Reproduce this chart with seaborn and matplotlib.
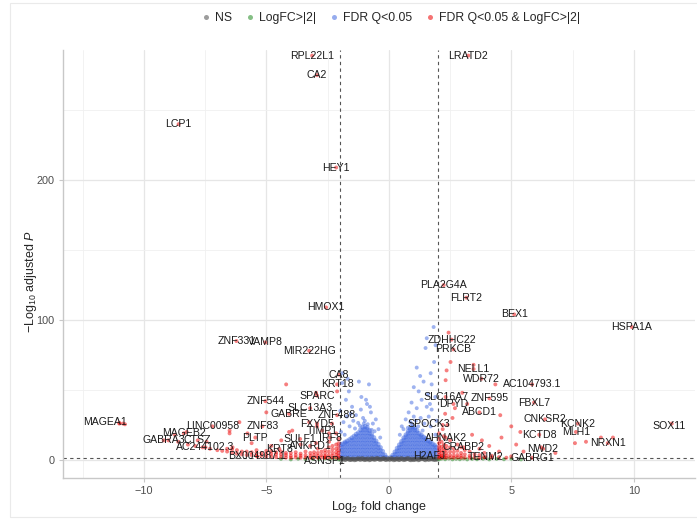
import matplotlib
matplotlib.use("Agg")
import matplotlib.pyplot as plt
from matplotlib.lines import Line2D
from matplotlib.patches import Rectangle
import pandas as pd
import seaborn as sns

# ---------------- data: log2 fold change / -log10 adjusted P ----------------
# dense significant genes with |log2FC| < 2, listed column by column (lfc: [-log10 p])
blue_left_cols = {
    -0.08: [1.8],
    -0.16: [1.8, 3.6],
    -0.25: [1.8, 4.0, 6.2],
    -0.34: [1.9, 4.3, 6.8, 8.9],
    -0.43: [1.8, 4.2, 6.6, 9.0, 11.2],
    -0.52: [1.9, 4.4, 6.9, 9.4, 11.8, 13.6],
    -0.61: [1.8, 4.2, 6.7, 9.2, 11.7, 14.1, 16.0],
    -0.70: [1.9, 4.4, 6.9, 9.4, 11.9, 14.4, 16.8, 18.6],
    -0.79: [1.8, 4.3, 6.8, 9.3, 11.8, 14.3, 16.8, 19.2, 21.0],
    -0.88: [1.9, 4.4, 6.9, 9.4, 11.9, 14.4, 16.9, 19.4, 21.8, 23.2],
    -0.97: [1.8, 4.3, 6.8, 9.3, 11.8, 14.3, 16.8, 19.3, 21.8, 24.0],
    -1.06: [1.9, 4.4, 6.9, 9.4, 11.9, 14.4, 16.9, 19.4, 21.7, 23.4],
    -1.15: [1.8, 4.3, 6.8, 9.3, 11.8, 14.3, 16.8, 19.3, 21.6],
    -1.24: [1.9, 4.4, 6.9, 9.4, 11.9, 14.4, 16.9, 19.5],
    -1.33: [1.8, 4.3, 6.8, 9.3, 11.8, 14.3, 16.8, 18.4],
    -1.42: [1.9, 4.4, 6.9, 9.4, 11.9, 14.4, 17.0],
    -1.51: [1.8, 4.3, 6.8, 9.3, 11.8, 14.2, 15.8],
    -1.60: [1.9, 4.4, 6.9, 9.4, 11.9, 14.6],
    -1.69: [1.8, 4.3, 6.8, 9.3, 11.8, 13.6],
    -1.78: [1.9, 4.4, 6.9, 9.4, 11.9, 12.8],
    -1.87: [1.8, 4.3, 6.8, 9.3, 11.6],
    -1.95: [1.9, 4.4, 6.9, 9.4, 11.0],
}
blue_right_cols = {
    0.08: [1.8],
    0.16: [1.8, 3.4],
    0.25: [1.9, 4.0, 5.8],
    0.34: [1.8, 4.2, 6.5, 8.4],
    0.43: [1.9, 4.3, 6.7, 9.0, 10.8],
    0.52: [1.8, 4.3, 6.8, 9.3, 11.6, 13.2],
    0.61: [1.9, 4.4, 6.9, 9.4, 11.9, 14.2, 15.8],
    0.70: [1.8, 4.3, 6.8, 9.3, 11.8, 14.3, 16.6, 18.0],
    0.79: [1.9, 4.4, 6.9, 9.4, 11.9, 14.4, 16.9, 19.2, 20.6],
    0.88: [1.8, 4.3, 6.8, 9.3, 11.8, 14.3, 16.8, 19.3, 21.6, 22.8],
    0.97: [1.9, 4.4, 6.9, 9.4, 11.9, 14.4, 16.9, 19.4, 21.9, 23.6],
    1.06: [1.8, 4.3, 6.8, 9.3, 11.8, 14.3, 16.8, 19.3, 21.6, 22.9],
    1.15: [1.9, 4.4, 6.9, 9.4, 11.9, 14.4, 16.9, 19.4, 21.2],
    1.24: [1.8, 4.3, 6.8, 9.3, 11.8, 14.3, 16.8, 19.0],
    1.33: [1.9, 4.4, 6.9, 9.4, 11.9, 14.4, 16.6, 17.8],
    1.42: [1.8, 4.3, 6.8, 9.3, 11.8, 14.3, 16.4],
    1.51: [1.9, 4.4, 6.9, 9.4, 11.9, 14.2, 15.4],
    1.60: [1.8, 4.3, 6.8, 9.3, 11.8, 13.9],
    1.69: [1.9, 4.4, 6.9, 9.4, 11.9, 12.9],
    1.78: [1.8, 4.3, 6.8, 9.3, 11.6],
    1.87: [1.9, 4.4, 6.9, 9.4, 10.6],
    1.95: [1.8, 4.3, 6.8, 9.0],
}
# sparser significant genes above the dense mass
blue_sparse = [
    (-1.90, 55), (-1.22, 56), (-0.81, 54), (-1.63, 49), (-0.93, 43), (-0.89, 40),
    (-1.75, 43), (-1.50, 38), (-1.14, 36), (-0.73, 34), (-1.34, 32), (-1.71, 31),
    (-0.53, 29), (-1.05, 30), (-1.45, 28), (-0.65, 26), (-1.85, 27), (-1.25, 26.5),
    (-0.42, 22), (-1.60, 24), (-0.98, 28), (-1.95, 20), (-1.80, 18), (-0.35, 16),
    (-1.38, 22.5), (-0.58, 20.5), (-1.12, 45), (-1.55, 33), (-0.77, 38), (-1.98, 35),
    (-1.90, 62), (-1.68, 58), (-1.02, 26), (-0.86, 25.5), (-1.18, 24.5), (-0.70, 21.5),
    (1.83, 95), (1.55, 87), (1.50, 80), (1.91, 82), (1.14, 66), (1.71, 62),
    (1.42, 56), (1.02, 52), (1.22, 49), (1.75, 54), (0.93, 41), (1.34, 43),
    (1.14, 37), (1.55, 38), (0.81, 34), (1.75, 36), (1.02, 31), (0.69, 29),
    (1.63, 31), (0.53, 24), (1.71, 24), (1.90, 45), (1.85, 70), (1.60, 47),
    (1.30, 30), (0.88, 27), (1.45, 26), (1.95, 28), (0.45, 18), (1.90, 18),
    (1.28, 60), (1.68, 40), (1.10, 28), (0.60, 22), (0.95, 25.5), (1.20, 24),
    (0.78, 23), (1.38, 21),
]
# not significant, |log2FC| < 2
ns_points = [
    (-1.95, 0.3), (-1.85, 0.8), (-1.75, 0.4), (-1.65, 0.9), (-1.55, 0.3), (-1.45, 0.7),
    (-1.35, 0.4), (-1.25, 1.0), (-1.15, 0.3), (-1.05, 0.8), (-0.95, 0.4), (-0.85, 0.9),
    (-0.75, 0.3), (-0.65, 0.7), (-0.55, 0.4), (-0.45, 1.0), (-0.35, 0.3), (-0.25, 0.8),
    (-0.15, 0.4), (-0.05, 0.9), (0.05, 0.3), (0.15, 0.7), (0.25, 0.4), (0.35, 1.0),
    (0.45, 0.3), (0.55, 0.8), (0.65, 0.4), (0.75, 0.9), (0.85, 0.3), (0.95, 0.7),
    (1.05, 0.4), (1.15, 1.0), (1.25, 0.3), (1.35, 0.8), (1.45, 0.4), (1.55, 0.9),
    (1.65, 0.3), (1.75, 0.7), (1.85, 0.4), (1.95, 1.0),
    (-1.90, 1.1), (-1.60, 0.2), (-1.30, 0.6), (-1.00, 0.2), (-0.70, 1.1), (-0.40, 0.6),
    (-0.10, 0.2), (0.10, 1.1), (0.40, 0.2), (0.70, 0.6), (1.00, 0.2), (1.30, 1.1),
    (1.60, 0.6), (1.90, 0.2),
    (-1.98, 0.6), (-1.80, 0.2), (-1.70, 1.1), (-1.50, 0.6), (-1.40, 0.1), (-1.20, 0.6),
    (-1.10, 1.1), (-0.90, 0.6), (-0.80, 0.1), (-0.60, 0.5), (-0.50, 1.1), (-0.30, 0.6),
    (-0.20, 1.1), (0.00, 0.6), (0.20, 0.1), (0.30, 0.6), (0.50, 1.1), (0.60, 0.2),
    (0.80, 1.1), (0.90, 0.1), (1.10, 0.6), (1.20, 0.1), (1.40, 1.1), (1.50, 0.1),
    (1.70, 1.1), (1.80, 0.6), (1.98, 0.5),
]
# not significant, |log2FC| > 2
green_points = [
    (2.05, 0.4), (2.15, 0.9), (2.30, 0.5), (2.45, 1.0), (2.60, 0.4), (2.75, 0.8),
    (2.90, 0.5), (3.05, 1.0), (3.20, 0.4), (3.40, 0.8), (3.60, 0.5), (3.85, 0.9),
    (4.10, 0.4), (4.40, 0.8), (4.70, 0.5), (5.00, 0.9), (5.40, 0.4),
    (-2.05, 0.4), (-2.20, 0.9), (-2.40, 0.5), (-2.60, 1.0), (-2.85, 0.4), (-3.10, 0.8),
    (-3.40, 0.5), (-3.70, 0.9), (-4.00, 0.4), (-4.40, 0.8),
]
# significant with |log2FC| > 2 (unlabelled)
red_right_cols = {
    2.05: [1.6, 3.5, 5.5, 7.5, 9.5, 12.0, 15.0, 19.0],
    2.15: [1.6, 3.0, 5.0, 7.0, 9.5, 13.0],
    2.25: [1.8, 3.5, 6.0, 8.5, 11.0, 17.0],
    2.35: [1.6, 3.0, 5.0, 7.5, 10.0],
    2.50: [1.7, 3.5, 6.0, 9.0, 14.0],
    2.65: [1.6, 3.0, 5.5, 8.0],
    2.80: [1.8, 3.5, 6.5, 11.0],
    2.95: [1.6, 3.0, 5.0, 9.0],
    3.10: [1.7, 4.0, 7.0],
    3.30: [1.6, 3.0, 6.0],
    3.50: [1.8, 4.0],
    3.70: [1.6, 3.5, 8.0],
    3.90: [2.0, 5.0],
    4.20: [1.7, 3.0],
    4.50: [2.0, 6.0],
    4.80: [1.6],
    5.00: [2.5],
}
red_left_cols = {
    -2.05: [1.6, 3.0, 5.0, 7.0, 9.5, 12.0, 15.0],
    -2.15: [1.7, 3.5, 5.5, 8.0, 11.0],
    -2.30: [1.6, 3.0, 5.0, 7.5, 10.0],
    -2.45: [1.8, 3.5, 6.0, 9.0],
    -2.60: [1.6, 3.0, 5.0, 7.0],
    -2.75: [1.7, 3.5, 6.0],
    -2.90: [1.6, 3.0, 5.0, 8.0],
    -3.05: [1.8, 3.5, 5.5],
    -3.20: [1.6, 3.0, 5.0],
    -3.40: [1.7, 3.5, 6.0],
    -3.60: [1.6, 3.0, 4.5],
    -3.80: [1.8, 3.5, 5.5],
    -4.00: [1.6, 3.0, 5.0],
    -4.20: [1.7, 3.5, 5.0],
    -4.40: [2.0, 4.0, 6.0],
    -4.60: [2.0, 4.0, 5.5],
    -4.80: [2.5, 4.5, 6.5],
    -5.00: [2.5, 4.5, 6.5],
    -5.20: [3.0, 5.0],
    -5.40: [3.0, 5.0, 7.0],
    -5.60: [3.5, 5.5],
    -5.80: [3.5, 6.0],
    -6.00: [4.0, 6.0],
    -6.20: [4.5, 7.0],
    -6.40: [5.0, 7.5],
    -6.60: [6.0, 8.0],
    -6.80: [6.5],
    -7.00: [7.0],
    -7.30: [8.0],
    -7.60: [9.0],
    -7.90: [10.0],
    -8.20: [11.0],
    -8.60: [13.0],
    -9.00: [14.0],
}
red_sparse = [
    (2.44, 91), (2.36, 64), (2.52, 70), (2.32, 57), (4.35, 54), (4.55, 32),
    (5.00, 24), (5.37, 20), (5.20, 11), (6.22, 9), (7.60, 12), (8.05, 13),
    (9.15, 16), (8.66, 16), (3.46, 68), (2.40, 25), (2.60, 30), (2.30, 33),
    (2.70, 37), (3.20, 40), (3.00, 48), (2.20, 22), (3.40, 18), (3.80, 14),
    (4.10, 10), (4.60, 16), (5.50, 6), (6.80, 5),
    (-11.00, 26.5), (-10.85, 26), (-10.77, 25.5), (-6.50, 21), (-6.50, 19),
    (-6.10, 27), (-8.25, 20), (-8.74, 18), (-7.44, 13), (-6.38, 9), (-4.39, 14),
    (-3.94, 21), (-2.97, 12), (-2.44, 19), (-4.19, 54), (-2.11, 49), (-2.97, 48),
    (-5.00, 34), (-5.77, 19), (-4.07, 20), (-3.25, 27), (-2.93, 24), (-2.32, 26),
    (-2.15, 19), (-2.44, 13), (-3.60, 11), (-4.80, 10), (-5.60, 12),
]

# labelled genes
genes = ["RPL22L1", "LRATD2", "CA2", "LCP1", "HEY1", "PLA2G4A", "FLRT2", "BEX1",
         "HMOX1", "HSPA1A", "ZNF331", "VAMP8", "MIR222HG", "ZDHHC22", "PRKCB",
         "NELL1", "WDR72", "AC104793.1", "CA8", "KRT18", "SLC16A7", "DPYD",
         "ZNF595", "FBXL7", "ABCD1", "SPARC", "ZNF544", "SLC13A3", "GABRE",
         "ZNF488", "FXYD5", "TIMP1", "LINC00958", "ZNF83", "MAGEA1", "MAGEB2",
         "GABRA3", "CTSZ", "AC244102.3", "PLTP", "SULF1", "IRF8", "ANKRD1", "KRT8",
         "BX004987.1", "ASNSP1", "SPOCK3", "AHNAK2", "CRABP2", "H2AFJ", "TENM2",
         "GABRG1", "CNKSR2", "KCTD8", "NWD2", "KCNK2", "MLH1", "NRXN1", "SOX11"]
gene_lfc = [-3.13, 3.25, -2.93, -8.58, -2.15, 2.24, 3.17, 5.12,
            -2.56, 9.92, -6.22, -5.04, -3.25, 2.56, 2.64,
            3.46, 3.78, 5.85, -2.03, -2.11, 2.32, 2.64,
            4.11, 5.93, 3.70, -2.93, -5.04, -3.21, -4.07,
            -2.11, -2.93, -2.72, -7.20, -5.16, -11.00, -8.37,
            -9.19, -7.80, -7.48, -5.45, -3.62, -2.40, -3.21, -4.47,
            -5.37, -2.60, 2.20, 2.32, 3.05, 2.10, 3.94,
            5.85, 6.38, 6.14, 6.30, 7.72, 7.64, 8.94, 11.55]
gene_logp = [289, 289, 275, 240, 209, 125, 116, 104,
             109, 95, 85, 84, 78, 86, 79,
             65, 58, 54, 61, 54, 45, 40,
             44, 41, 34, 46, 42, 37, 33,
             32, 26, 21, 24, 24, 26, 19,
             14, 14, 9, 16, 15, 16, 10, 8,
             2.5, 2.0, 25, 16, 9, 2.5, 2.0,
             1.6, 29, 18, 8, 26, 20, 12, 26]

# label nudges (log2FC units, -log10 p units) for labels not centred on their gene
label_nudge = {"MAGEA1": (-0.6, 1.0), "ASNSP1": (0.0, -3.0), "SPOCK3": (-0.55, 1.0),
               "H2AFJ": (-0.45, 0.5), "SOX11": (-0.1, -2.0)}

groups = ["NS", "LogFC>|2|", "FDR Q<0.05", "FDR Q<0.05 & LogFC>|2|"]
colors = {"NS": "#4D4D4D", "LogFC>|2|": "#228B22",
          "FDR Q<0.05": "#4169E1", "FDR Q<0.05 & LogFC>|2|": "#EE0000"}


# ---------------- assemble long tables ----------------
def expand(cols):
    return [(x, y) for x, ys in cols.items() for y in ys]


def table(parts):
    rows = []
    for grp, pts in parts:
        rows += [{"lfc": x, "logp": y, "group": grp} for x, y in pts]
    return pd.DataFrame(rows)


dense = table([
    ("FDR Q<0.05", expand(blue_left_cols) + expand(blue_right_cols)),
    ("NS", ns_points),
])
sparse = table([
    ("FDR Q<0.05", blue_sparse),
    ("LogFC>|2|", green_points),
    ("FDR Q<0.05 & LogFC>|2|", expand(red_left_cols) + expand(red_right_cols)
     + red_sparse + list(zip(gene_lfc, gene_logp))),
])

# ---------------- style ----------------
sns.set_theme(style="white")
plt.rcParams["font.family"] = ["Liberation Sans", "DejaVu Sans"]
plt.rcParams["mathtext.fontset"] = "custom"
plt.rcParams["mathtext.rm"] = "Liberation Sans"
plt.rcParams["mathtext.it"] = "Liberation Sans:italic"

fig = plt.figure(figsize=(6.97, 5.2), dpi=100)
fig.patches.append(Rectangle((10 / 697, 3 / 520), 690 / 697, 514 / 520,
                             transform=fig.transFigure, fill=False,
                             edgecolor="#EAEAEA", linewidth=0.8))
ax = fig.add_axes([63 / 697, 42 / 520, 632 / 697, 428 / 520])

sns.scatterplot(data=dense, x="lfc", y="logp", hue="group", hue_order=groups,
                palette=colors, s=12, alpha=0.5, linewidth=0, legend=False,
                ax=ax, zorder=3)
sns.scatterplot(data=sparse, x="lfc", y="logp", hue="group", hue_order=groups,
                palette=colors, s=8, alpha=0.5, linewidth=0, legend=False,
                ax=ax, zorder=3)

ax.set_xlim(-13.3, 12.4)
ax.set_ylim(-12.9, 293)
ax.set_xticks([-10, -5, 0, 5, 10])
ax.set_yticks([0, 100, 200])
ax.set_xticks([-12.5, -7.5, -2.5, 2.5, 7.5, 12.5], minor=True)
ax.set_yticks([50, 150, 250], minor=True)
ax.grid(which="major", color="#E6E6E6", linewidth=0.9, zorder=0)
ax.grid(which="minor", color="#F0F0F0", linewidth=0.6, zorder=0)
ax.set_axisbelow(True)
for side in ["top", "right"]:
    ax.spines[side].set_visible(False)
for side in ["left", "bottom"]:
    ax.spines[side].set_color("#C8C8C8")
    ax.spines[side].set_linewidth(1.0)
ax.tick_params(which="major", length=3, width=0.8, color="#C8C8C8",
               labelcolor="#4D4D4D", labelsize=7.8, pad=3,
               bottom=True, left=True)
ax.tick_params(which="minor", length=0)

# thresholds
for xv in (-2, 2):
    ax.axvline(xv, color="#555555", linestyle=(0, (3, 3)), linewidth=0.8, zorder=2)
ax.axhline(1.3, color="#555555", linestyle=(0, (3, 3)), linewidth=0.8, zorder=2)

# gene labels
for g, x, y in zip(genes, gene_lfc, gene_logp):
    dx, dy = label_nudge.get(g, (0.0, 0.0))
    ax.text(x + dx, y + dy, g, ha="center", va="center", fontsize=7.6,
            color="#1A1A1A", zorder=5)

ax.set_xlabel(r"Log$_2$ fold change", fontsize=9, color="#262626", labelpad=2)
ax.set_ylabel(r"$-$Log$_{10}$ adjusted $\mathit{P}$", fontsize=9,
              color="#262626", labelpad=0)
ax.yaxis.set_label_coords(-24 / 632, 0.46)

handles = [Line2D([], [], marker="o", linestyle="", markersize=3.6,
                  markerfacecolor=colors[g], markeredgewidth=0, alpha=0.55)
           for g in groups]
fig.legend(handles, groups, loc="center", bbox_to_anchor=(390 / 697, 1 - 18 / 520),
           ncol=4, frameon=False, fontsize=8.8, handletextpad=0.2,
           columnspacing=1.0, handlelength=1.0)

fig.savefig("out.png", dpi=100)
